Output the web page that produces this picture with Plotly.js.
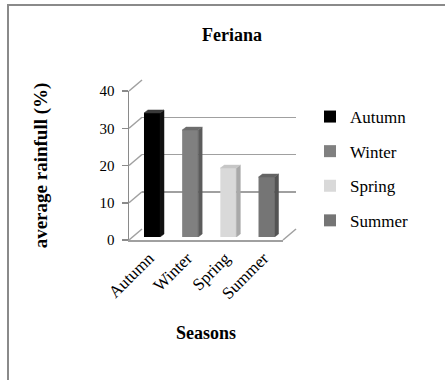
<!DOCTYPE html>
<html>
<head>
<meta charset="utf-8">
<script src="https://cdn.plot.ly/plotly-3.0.1.min.js"></script>
<style>html,body{margin:0;padding:0;background:#fff}#chart{width:445px;height:380px}</style>
</head>
<body>
<div id="chart"></div>
<script>
// ---- data ----
const categories = ['Autumn', 'Winter', 'Spring', 'Summer'];
const rainfall = [33.3, 28.7, 18.5, 16.1];
const yTicks = [0, 10, 20, 30, 40];
const chartTitle = 'Feriana';
const xTitle = 'Seasons';
const yTitle = 'average rainfull (%)';

// ---- styles ----
const frontColors = ['#000000', '#808080', '#d9d9d9', '#757575'];
const sideColors  = ['#111111', '#5c5c5c', '#a9a9a9', '#535353'];
const topColors   = ['#3a3a3a', '#6d6d6d', '#c6c6c6', '#646464'];
const FONT = '"Liberation Serif"';
const W = 445, H = 380;
const px = p => p / W;
const py = p => 1 - p / H;

// geometry (pixels) of the front plane, back wall offset, bar plane offset
const FX0 = 129, FX1 = 283, FY0 = 240, FY1 = 91;
const BDX = 13, BDY = -11;
const MDX = 3, MDY = -3;
const XR = [-0.524, 3.51];
const YR = [0, 40];
const barW = 0.42;
const depthX = 0.104, depthY = 0.8;

const traces = [];
// placeholder traces so the front and back-wall subplots are drawn
traces.push({type: 'scatter', mode: 'markers', x: [null], y: [null], showlegend: false,
  xaxis: 'x', yaxis: 'y', hoverinfo: 'skip'});
traces.push({type: 'scatter', mode: 'markers', x: [null], y: [null], showlegend: false,
  xaxis: 'x2', yaxis: 'y2', hoverinfo: 'skip'});
categories.forEach((c, i) => {
  const v = rainfall[i];
  const l = i - barW / 2, r = i + barW / 2;
  traces.push({
    type: 'bar', x: [i], y: [v], width: barW, name: c, legendgroup: c,
    marker: {color: frontColors[i], line: {width: 0}},
    xaxis: 'x3', yaxis: 'y3', hoverinfo: 'name+y'
  });
  traces.push({
    type: 'scatter', mode: 'lines', fill: 'toself', showlegend: false, legendgroup: c,
    x: [r, r + depthX, r + depthX, r, r],
    y: [0, depthY, v + depthY, v, 0],
    fillcolor: sideColors[i], line: {color: sideColors[i], width: 0.5},
    xaxis: 'x3', yaxis: 'y3', hoverinfo: 'skip'
  });
  traces.push({
    type: 'scatter', mode: 'lines', fill: 'toself', showlegend: false, legendgroup: c,
    x: [l, r, r + depthX, l + depthX, l],
    y: [v, v, v + depthY, v + depthY, v],
    fillcolor: topColors[i], line: {color: topColors[i], width: 0.5},
    xaxis: 'x3', yaxis: 'y3', hoverinfo: 'skip'
  });
});

const frontYpx = v => FY0 - (v - YR[0]) / (YR[1] - YR[0]) * (FY0 - FY1);
const shapes = [];
// left wall diagonals at each tick
yTicks.forEach(v => {
  shapes.push({type: 'line', xref: 'paper', yref: 'paper',
    x0: px(FX0), y0: py(frontYpx(v)), x1: px(FX0 + BDX), y1: py(frontYpx(v) + BDY),
    line: {color: '#a0a0a0', width: 1.5}});
});
// floor right diagonal
shapes.push({type: 'line', xref: 'paper', yref: 'paper',
  x0: px(FX1), y0: py(FY0), x1: px(FX1 + BDX), y1: py(FY0 + BDY),
  line: {color: '#a0a0a0', width: 1.5}});
// outer frame
shapes.push({type: 'rect', xref: 'paper', yref: 'paper',
  x0: px(8), y0: py(5), x1: px(460), y1: py(395),
  line: {color: '#8a8a8a', width: 2}, fillcolor: 'rgba(0,0,0,0)'});

const hidden = {showgrid: false, zeroline: false, showline: false, showticklabels: false, ticks: ''};
const layout = {
  width: W, height: H,
  margin: {l: 0, r: 0, t: 0, b: 0},
  paper_bgcolor: '#ffffff', plot_bgcolor: 'rgba(0,0,0,0)',
  font: {family: FONT, color: '#000', size: 15},
  barmode: 'overlay',
  title: {text: chartTitle, x: px(232), xanchor: 'center', y: py(35), yanchor: 'middle',
    xref: 'paper', yref: 'paper', font: {family: FONT, size: 18, weight: 'bold', color: '#000'}},
  xaxis: {domain: [px(FX0), px(FX1)], range: XR, anchor: 'y',
    tickmode: 'array', tickvals: categories.map((c, i) => i), ticktext: categories,
    tickangle: -45, ticks: '', showgrid: false, zeroline: false,
    showline: true, linecolor: '#a0a0a0', linewidth: 1.5,
    tickfont: {family: FONT, size: 17}, automargin: false,
    title: {text: xTitle, standoff: 24, font: {family: FONT, size: 18, weight: 'bold'}}},
  yaxis: {domain: [py(FY0), py(FY1)], range: YR, anchor: 'x',
    tickmode: 'array', tickvals: yTicks, ticks: 'outside', ticklen: 6, tickcolor: '#8a8a8a', tickwidth: 1.5,
    ticklabelstandoff: 4,
    showgrid: false, zeroline: false, showline: true, linecolor: '#8a8a8a', linewidth: 1.5,
    tickfont: {family: FONT, size: 15}, automargin: false,
    title: {text: yTitle, standoff: 47, font: {family: FONT, size: 19, weight: 'bold'}}},
  xaxis2: Object.assign({domain: [px(FX0 + BDX), px(FX1 + BDX)], range: XR, anchor: 'y2'}, hidden),
  yaxis2: {domain: [py(FY0 + BDY), py(FY1 + BDY)], range: YR, anchor: 'x2',
    tickmode: 'array', tickvals: yTicks, showticklabels: false, ticks: '',
    showgrid: true, gridcolor: '#a0a0a0', gridwidth: 1.5, zeroline: false, showline: false},
  xaxis3: Object.assign({domain: [px(FX0 + MDX), px(FX1 + MDX)], range: XR, anchor: 'y3'}, hidden),
  yaxis3: Object.assign({domain: [py(FY0 + MDY), py(FY1 + MDY)], range: YR, anchor: 'x3'}, hidden),
  legend: {x: px(310), y: py(99), xanchor: 'left', yanchor: 'top',
    font: {family: FONT, size: 17}, tracegroupgap: 9.5, traceorder: 'grouped',
    bgcolor: 'rgba(0,0,0,0)'},
  shapes: shapes,
  showlegend: true
};

Plotly.newPlot('chart', traces, layout, {displayModeBar: false, staticPlot: true});
</script>
</body>
</html>
